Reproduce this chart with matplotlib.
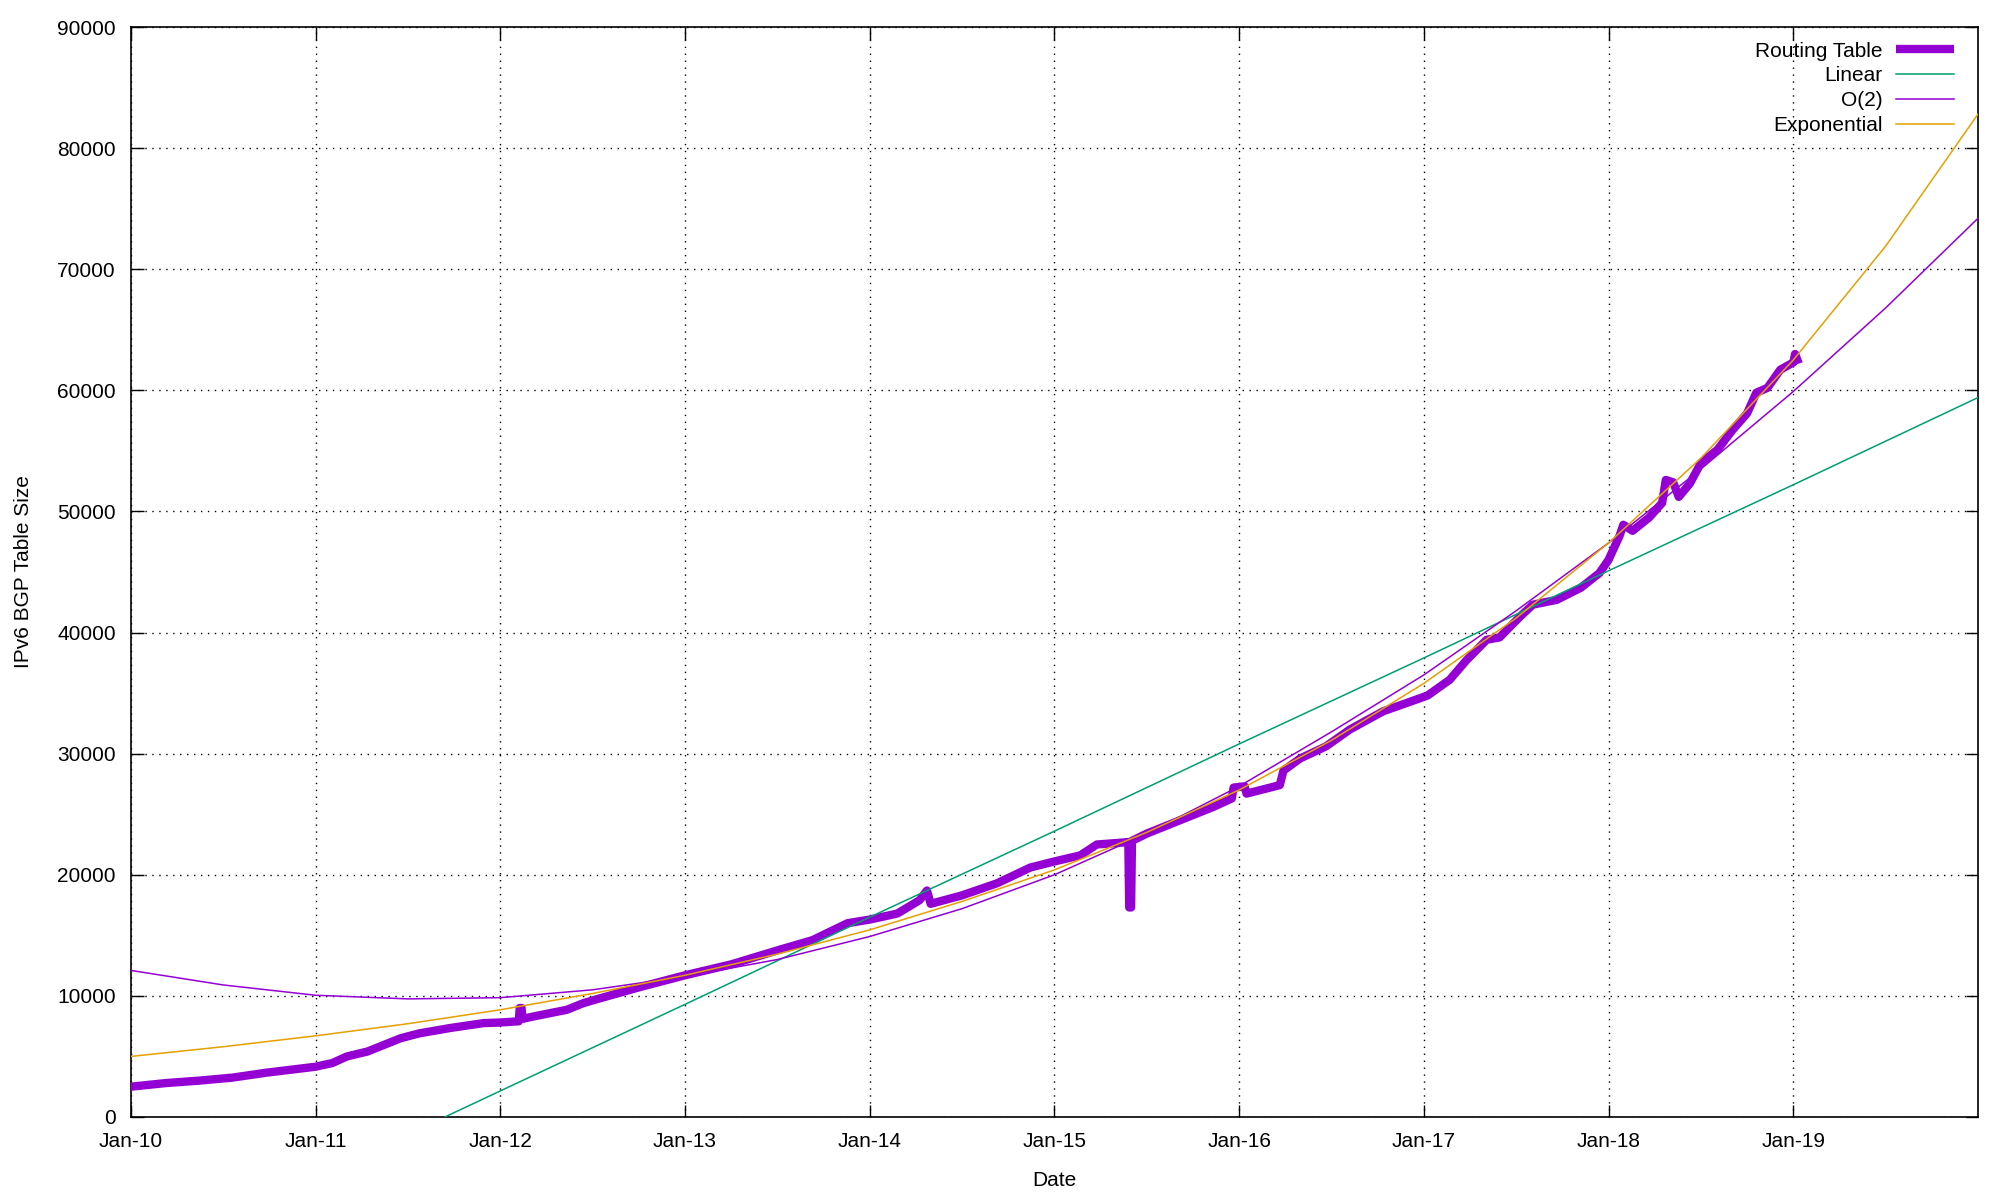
import matplotlib
matplotlib.use('Agg')
import matplotlib.pyplot as plt

# Routing table size (thousands of routes) against decimal year
table_years = [2010.00, 2010.19, 2010.37, 2010.55, 2010.73, 2010.92, 2011.00, 2011.09,
               2011.17, 2011.28, 2011.37, 2011.46, 2011.56, 2011.73, 2011.91, 2012.00,
               2012.10, 2012.105, 2012.115, 2012.12, 2012.18, 2012.36, 2012.45, 2012.54,
               2012.75, 2012.90, 2013.00, 2013.25, 2013.51, 2013.69, 2013.88, 2014.00,
               2014.15, 2014.27, 2014.31, 2014.33, 2014.50, 2014.69, 2014.87, 2015.00,
               2015.14, 2015.23, 2015.32, 2015.40, 2015.405, 2015.415, 2015.42, 2015.50,
               2015.68, 2015.86, 2015.96, 2015.97, 2016.03, 2016.04, 2016.22, 2016.24,
               2016.33, 2016.47, 2016.60, 2016.78, 2016.91, 2017.02, 2017.14, 2017.23,
               2017.34, 2017.41, 2017.52, 2017.59, 2017.72, 2017.85, 2017.95, 2018.00,
               2018.06, 2018.08, 2018.13, 2018.22, 2018.29, 2018.31, 2018.35, 2018.38,
               2018.44, 2018.50, 2018.59, 2018.67, 2018.75, 2018.80, 2018.86, 2018.93,
               2019.00, 2019.01, 2019.03]
table_k = [2.5, 2.8, 3.0, 3.25, 3.65, 4.0, 4.15, 4.45,
           5.0, 5.4, 5.95, 6.5, 6.9, 7.35, 7.75, 7.8,
           7.9, 9.0, 9.0, 8.1, 8.3, 8.85, 9.4, 9.8,
           10.7, 11.3, 11.7, 12.6, 13.8, 14.6, 16.0, 16.3,
           16.8, 17.9, 18.7, 17.6, 18.3, 19.3, 20.6, 21.1,
           21.6, 22.5, 22.6, 22.7, 17.3, 17.3, 22.8, 23.4,
           24.5, 25.6, 26.3, 27.2, 27.3, 26.7, 27.4, 28.6,
           29.6, 30.6, 32.0, 33.5, 34.2, 34.8, 36.1, 37.7,
           39.4, 39.6, 41.3, 42.3, 42.7, 43.7, 44.9, 46.0,
           48.0, 48.9, 48.4, 49.5, 50.7, 52.6, 52.4, 51.2,
           52.3, 54.0, 55.1, 56.7, 58.1, 59.8, 60.2, 61.7,
           62.3, 63.0, 62.2]

# fitted curves
lin_years = [2011.70, 2012, 2013, 2014, 2015, 2016, 2017, 2018, 2019, 2020]
lin_k = [0.0, 2.15, 9.3, 16.5, 23.6, 30.8, 37.9, 45.1, 52.2, 59.4]

fit_years = [2010, 2010.5, 2011, 2011.5, 2012, 2012.5, 2013, 2013.5, 2014, 2014.5, 2015,
             2015.5, 2016, 2016.5, 2017, 2017.5, 2018, 2018.5, 2019, 2019.5, 2020]
quad_k = [12.1, 10.9, 10.05, 9.75, 9.85, 10.5, 11.6, 13.0, 14.9, 17.2, 20.0,
          23.4, 27.3, 31.8, 36.5, 41.8, 47.4, 53.5, 59.9, 66.8, 74.2]
exp_k = [5.0, 5.8, 6.7, 7.7, 8.85, 10.2, 11.7, 13.45, 15.45, 17.8, 20.4,
         23.5, 27.0, 31.1, 35.8, 41.2, 47.4, 54.4, 62.5, 71.9, 82.8]

tick_years = list(range(2010, 2020))
tick_labels = ['Jan-10', 'Jan-11', 'Jan-12', 'Jan-13', 'Jan-14',
               'Jan-15', 'Jan-16', 'Jan-17', 'Jan-18', 'Jan-19']
y_ticks = list(range(0, 90001, 10000))

plt.rcParams['font.family'] = ['Liberation Sans', 'DejaVu Sans']
plt.rcParams['font.size'] = 15

fig = plt.figure(figsize=(20.14, 11.95), dpi=100)
ax = fig.add_axes([0.065, 0.0653, 0.9171, 0.9121])

ax.plot(table_years, [v * 1000 for v in table_k], color='#9400d3', lw=6,
        solid_joinstyle='round', solid_capstyle='butt', label='Routing Table', zorder=3)
ax.plot(lin_years, [v * 1000 for v in lin_k], color='#009e73', lw=1.1, label='Linear', zorder=4)
ax.plot(fit_years, [v * 1000 for v in quad_k], color='#9400d3', lw=1.1, label='O(2)', zorder=4)
ax.plot(fit_years, [v * 1000 for v in exp_k], color='#e69f00', lw=1.1, label='Exponential', zorder=4)

ax.set_xlim(2010, 2020)
ax.set_ylim(0, 90000)
ax.set_xticks(tick_years)
ax.set_xticklabels(tick_labels)
ax.set_yticks(y_ticks)
ax.tick_params(direction='in', top=True, right=True, length=9, width=1, pad=11)
ax.grid(True, color='black', linestyle=(0, (1, 4)), lw=1)
for s in ax.spines.values():
    s.set_linewidth(1.2)

ax.set_xlabel('Date', labelpad=14)
ax.set_ylabel('IPv6 BGP Table Size', labelpad=17)

leg = ax.legend(loc='upper right', bbox_to_anchor=(0.9951, 1.0), frameon=False,
                markerfirst=False, handlelength=2.8, handletextpad=0.65,
                labelspacing=0.28, borderaxespad=0.3)
for col in leg._legend_handle_box.get_children():
    col.align = 'right'

fig.savefig('out.png', dpi=100)
